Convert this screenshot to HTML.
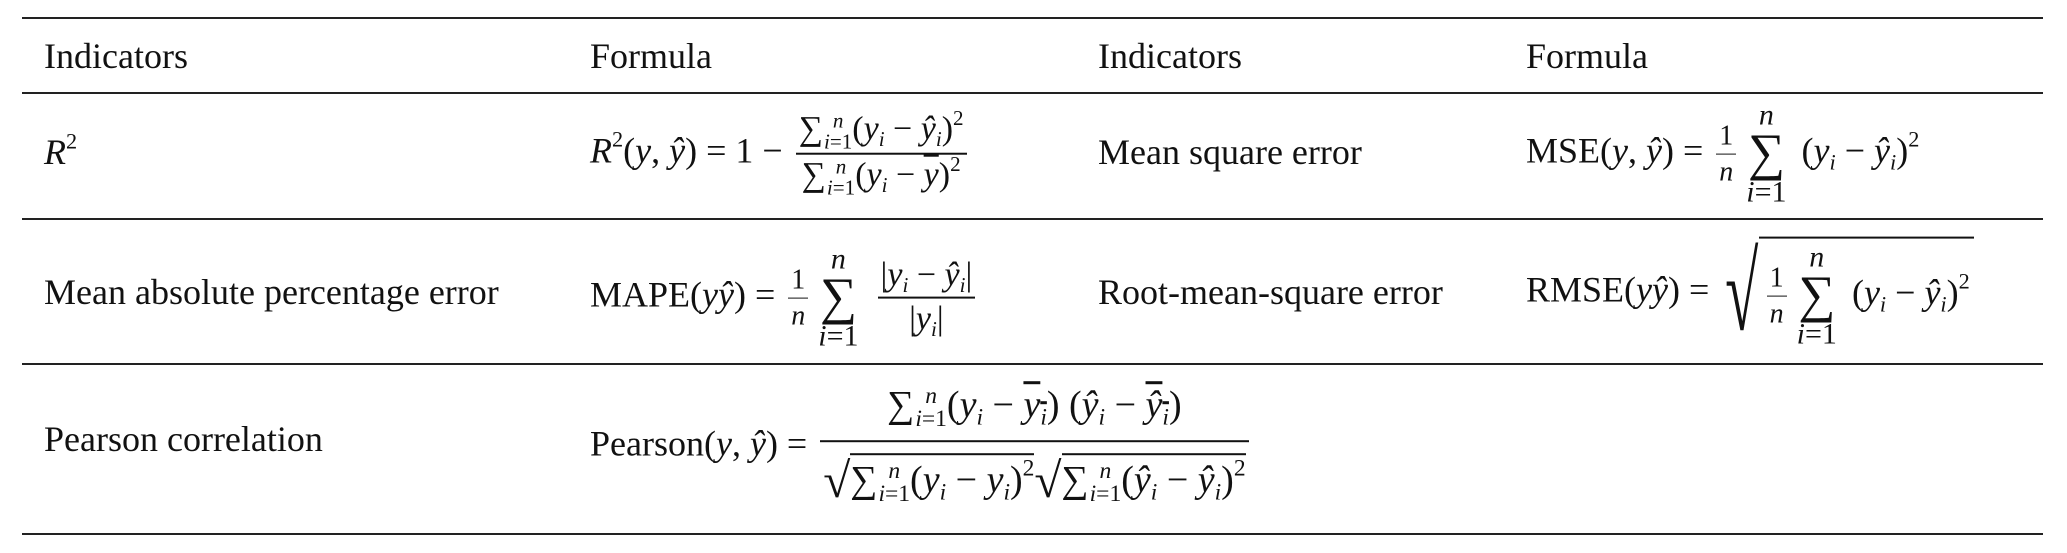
<!DOCTYPE html>
<html><head><meta charset="utf-8"><style>
html,body{margin:0;padding:0;background:#fff}
body{width:2067px;height:553px;position:relative;overflow:hidden;font-family:"Liberation Serif",serif;color:#111;font-size:36px}
.hl{position:absolute;left:22px;width:2021px;height:2px;background:#222}
.t{position:absolute;white-space:nowrap;line-height:1}
.f{position:absolute;white-space:nowrap;line-height:1.2;transform:translateY(-50%)}
i{font-style:italic}
.fr{display:inline-block;vertical-align:middle;text-align:center;margin:0 4px}
.fr>span{display:block;padding:0 3px;line-height:1.25}
.fr>span:first-child{border-bottom:2px solid #111}
.s{font-size:34px}
.sp{font-size:38px}
.s2{font-size:30px}
.sm{font-size:28px}
.sum{display:inline-block;vertical-align:middle;text-align:center;margin:0 6px;line-height:1}
.sum>span{display:block}
.sum .big{font-size:52px;line-height:0.9}
.rt{display:inline-block;vertical-align:middle;white-space:nowrap}
.rad{display:inline-block;vertical-align:middle;font-size:110px;line-height:1;transform:scaleX(0.55);transform-origin:right;margin-left:-20px}
.in{display:inline-block;vertical-align:middle;border-top:2px solid #111;padding:4px 4px 0}
sup{font-size:0.62em;vertical-align:0.7em;line-height:0}
sub{font-size:0.62em;vertical-align:-0.3em;line-height:0}
.ov{text-decoration:overline}
.lim{display:inline-block;vertical-align:middle;font-size:0.62em;line-height:1;margin-left:1px}
.lim>span{display:block}
.bx{display:inline-block;border-top:2px solid #111;padding-top:2px}
.sr{font-size:1.3em;vertical-align:-0.1em}
</style></head><body>
<div class="hl" style="top:17px"></div>
<div class="hl" style="top:92px"></div>
<div class="hl" style="top:218px"></div>
<div class="hl" style="top:363px"></div>
<div class="hl" style="top:533px"></div>

<div class="t" style="left:44px;top:38px">Indicators</div>
<div class="t" style="left:590px;top:38px">Formula</div>
<div class="t" style="left:1098px;top:38px">Indicators</div>
<div class="t" style="left:1526px;top:38px">Formula</div>

<div class="t" style="left:44px;top:134px"><i>R</i><sup>2</sup></div>
<div class="f" style="left:590px;top:154px"><i>R</i><sup>2</sup>(<i>y</i>, <i>ŷ</i>) = 1 − <span class="fr s"><span>∑<span class="lim"><span><i>n</i></span><span><i>i</i>=1</span></span>(<i>y<sub>i</sub></i> − <i>ŷ<sub>i</sub></i>)<sup>2</sup></span><span>∑<span class="lim"><span><i>n</i></span><span><i>i</i>=1</span></span>(<i>y<sub>i</sub></i> − <span class="ov"><i>y</i></span>)<sup>2</sup></span></span></div>
<div class="t" style="left:1098px;top:134px">Mean square error</div>
<div class="f" style="left:1526px;top:154px">MSE(<i>y</i>, <i>ŷ</i>) = <span class="fr sm"><span style="border-bottom-width:1px">1</span><span><i>n</i></span></span><span class="sum"><span class="s2"><i>n</i></span><span class="big">∑</span><span class="s2"><i>i</i>=1</span></span> (<i>y<sub>i</sub></i> − <i>ŷ<sub>i</sub></i>)<sup>2</sup></div>

<div class="t" style="left:44px;top:274px">Mean absolute percentage error</div>
<div class="f" style="left:590px;top:298px">MAPE(<i>yŷ</i>) = <span class="fr sm"><span style="border-bottom-width:1px">1</span><span><i>n</i></span></span><span class="sum"><span class="s2"><i>n</i></span><span class="big">∑</span><span class="s2"><i>i</i>=1</span></span> <span class="fr s"><span>|<i>y<sub>i</sub></i> − <i>ŷ<sub>i</sub></i>|</span><span>|<i>y<sub>i</sub></i>|</span></span></div>
<div class="t" style="left:1098px;top:274px">Root-mean-square error</div>
<div class="f" style="left:1526px;top:293px">RMSE(<i>yŷ</i>) = <span class="rt"><span class="rad">√</span><span class="in"><span class="fr sm"><span style="border-bottom-width:1px">1</span><span><i>n</i></span></span><span class="sum"><span class="s2"><i>n</i></span><span class="big">∑</span><span class="s2"><i>i</i>=1</span></span> (<i>y<sub>i</sub></i> − <i>ŷ<sub>i</sub></i>)<sup>2</sup></span></span></div>

<div class="t" style="left:44px;top:421px">Pearson correlation</div>
<div class="f" style="left:590px;top:447px">Pearson(<i>y</i>, <i>ŷ</i>) = <span class="fr sp"><span style="padding:0 10px 8px">∑<span class="lim"><span><i>n</i></span><span><i>i</i>=1</span></span>(<i>y<sub>i</sub></i> − <span class="ov"><i>y<sub>i</sub></i></span>) (<i>ŷ<sub>i</sub></i> − <span class="ov"><i>ŷ<sub>i</sub></i></span>)</span><span style="padding-top:8px"><span class="sr">√</span><span class="bx">∑<span class="lim"><span><i>n</i></span><span><i>i</i>=1</span></span>(<i>y<sub>i</sub></i> − <i>y<sub>i</sub></i>)<sup>2</sup></span><span class="sr">√</span><span class="bx">∑<span class="lim"><span><i>n</i></span><span><i>i</i>=1</span></span>(<i>ŷ<sub>i</sub></i> − <i>ŷ<sub>i</sub></i>)<sup>2</sup></span></span></span></div>
</body></html>
